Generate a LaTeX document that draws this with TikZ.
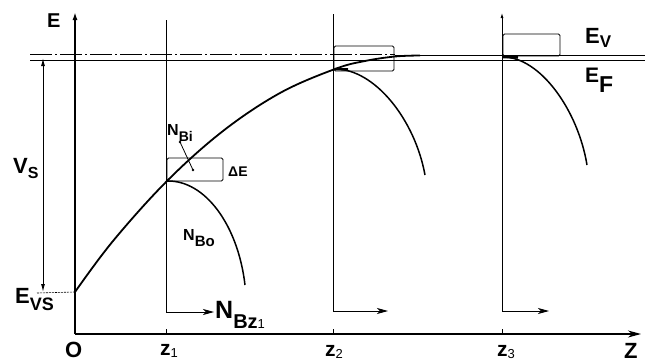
\documentclass[tikz,border=0pt]{standalone}
\usepackage{fontspec}
\setmainfont{Liberation Sans}
\usetikzlibrary{arrows.meta}
\newcommand{\fsz}[1]{\fontsize{#1}{#1}\selectfont}
\begin{document}
\begin{tikzpicture}[x=1pt,y=-1pt,
  lbl/.style={inner sep=0pt, anchor=base west, font=\bfseries},
  thinln/.style={line width=0.8pt},
  curveln/.style={line width=1.8pt},
  bulge/.style={line width=1.5pt},
  harrow/.style={thinln,-{Stealth[length=11pt,width=6pt,inset=3pt]}}]
\useasboundingbox (0,0) rectangle (645,362);

% axes
\coordinate (O) at (75,334);
\coordinate (Etop) at (75,12);
\coordinate (Zend) at (641,334);
\draw[line width=2.2pt,-{Latex[length=8pt,width=5pt]}] (O) -- (Etop);
\draw[line width=1.2pt,-{Stealth[length=13pt,width=7pt,inset=4pt]}] (O) -- (Zend);

% ticks
\foreach \x/\n in {166/ta,333/tb,502/tc}{
  \coordinate (\n) at (\x,334);
  \draw[thinln] (\n) -- ++(0,-5);
}

% verticals with horizontal arrows
\coordinate (z1top) at (166,20);
\coordinate (z1arr) at (214,312);
\coordinate (z2top) at (333,14);
\coordinate (z2arr) at (388,311);
\coordinate (z3top) at (502,17);
\coordinate (z3arr) at (549,311);
\draw[harrow] (z1top) |- (z1arr);
\draw[harrow] (z2top) |- (z2arr);
\draw[harrow] (z3top) |- (z3arr);
\draw[thinln,-{Latex[length=5pt,width=3pt]}] (z3top) -- (502,13);

% Fermi / valence levels
\coordinate (EFl) at (30,60);
\coordinate (EFr) at (645,60);
\coordinate (EVl) at (30,54.5);
\coordinate (EVm) at (395,55.5);
\coordinate (EVr) at (645,55.5);
\draw[line width=1pt] (EFl) -- (EFr);
\draw[line width=0.8pt,dash pattern=on 22pt off 3pt on 2pt off 3pt] (EVl) -- (395,54.5);
\draw[line width=1.6pt] (EVm) -- (EVr);

% main band bending curve
\coordinate (Evs) at (75,292);
\coordinate (P1) at (167,181);
\coordinate (P2) at (335,69);
\coordinate (P3) at (503,57);
\draw[curveln] plot[smooth,tension=0.6] coordinates {(75,292) (113,241) (167,181) (223,131) (280,93) (335,69) (365,61) (395,56.5) (420,55.5)};

% N_B bulges
\draw[bulge] (P1) .. controls (205,180) and (238,225) .. (245,285);
\draw[bulge] (P2) .. controls (375,69) and (415,120) .. (425,175);
\draw[bulge] (P3) .. controls (540,57) and (578,110) .. (587,165);
\draw[line width=2.5pt] (335,69) -- (348,69.5);
\draw[line width=2.5pt] (503,57) -- (518,57.5);

% Delta E boxes
\draw[thinln,rounded corners=1.5pt] (167,158) rectangle (223,181);
\draw[thinln,rounded corners=1.5pt] (334,46) rectangle (394,71);
\draw[thinln,rounded corners=1.5pt] (503,34) rectangle (560,56);

% N_Bi pointer
\coordinate (nbia) at (180,142);
\coordinate (nbib) at (193,170);
\draw[thinln] (nbia) -- (nbib);
\fill (nbia) circle (1.3);
\fill (nbib) circle (1.3);

% V_S arrow
\coordinate (vstop) at (43,58);
\coordinate (vsbot) at (43,292);
\draw[line width=1pt,{Latex[length=8pt,width=4pt]}-{Latex[length=8pt,width=4pt]}] (vstop) -- (vsbot);
\draw[line width=0.6pt,dash pattern=on 2pt off 1pt] (37,293) -- (Evs);

% labels
\node[lbl] (Elab) at (47,27) {\fsz{20}E};
\node[lbl] (Olab) at (65,357) {\fsz{22}O};
\node[lbl] (z1lab) at (160,355) {\fsz{21}z\raisebox{-2pt}{\fsz{13}\mdseries 1}};
\node[lbl] (z2lab) at (325,356) {\fsz{21}z\raisebox{-2pt}{\fsz{13}\mdseries 2}};
\node[lbl] (z3lab) at (497,356) {\fsz{21}z\raisebox{-2pt}{\fsz{13}\mdseries 3}};
\node[lbl] (Zlab) at (624,358) {\fsz{22}Z};
\node[lbl] (EVlab) at (585,43) {\fsz{22}E\raisebox{-4pt}{\fsz{17}V}};
\node[lbl] (EFlab) at (585,82) {\fsz{21}E\raisebox{-10pt}{\fsz{23}F}};
\node[lbl] (VSlab) at (13,173) {\fsz{22}V\raisebox{-5pt}{\fsz{16}S}};
\node[lbl] (EVSlab) at (15,303) {\fsz{22}E\raisebox{-7pt}{\fsz{18}VS}};
\node[lbl] (NBzlab) at (215,318) {\fsz{25}N\raisebox{-10pt}{\fsz{20}Bz\raisebox{0pt}{\fsz{13}\mdseries 1}}};
\node[lbl] (NBilab) at (167,135) {\fsz{16}N\raisebox{-6pt}{\fsz{14}Bi}};
\node[lbl] (NBolab) at (183,240) {\fsz{16}N\raisebox{-6pt}{\fsz{15}Bo}};
\node[lbl] (DElab) at (228,176) {\fsz{14}ΔE};
\end{tikzpicture}
\end{document}
